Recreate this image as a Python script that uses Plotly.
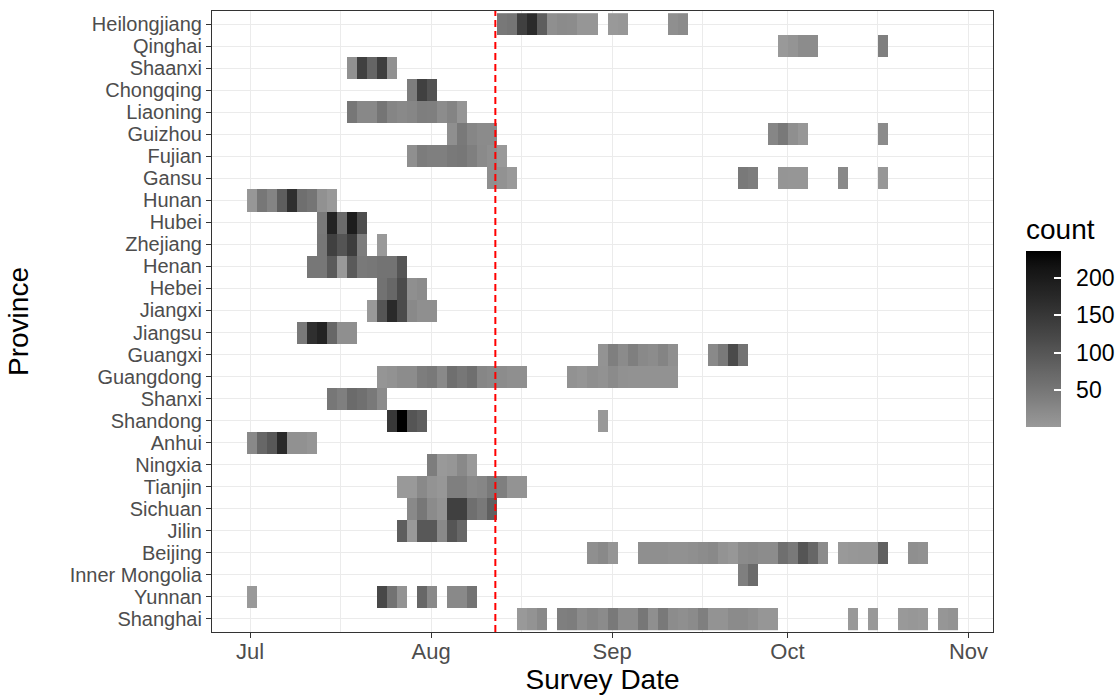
import math
from datetime import datetime, timedelta
import plotly.graph_objects as go

# ---------------- data ----------------
provinces = ["Heilongjiang", "Qinghai", "Shaanxi", "Chongqing", "Liaoning", "Guizhou",
             "Fujian", "Gansu", "Hunan", "Hubei", "Zhejiang", "Henan", "Hebei", "Jiangxi",
             "Jiangsu", "Guangxi", "Guangdong", "Shanxi", "Shandong", "Anhui", "Ningxia",
             "Tianjin", "Sichuan", "Jilin", "Beijing", "Inner Mongolia", "Yunnan", "Shanghai"]

# date bins (2-D histogram of survey dates)
bin_start = datetime(2020, 6, 30, 11, 40)
bin_days = 1.7154
n_bins = 71

# runs of (first bin index, counts per consecutive bin)
heilongjiang = [(25, [48, 52, 135, 170, 88, 16, 22, 20, 6, 6]), (36, [1, 4]), (42, [16, 22])]
qinghai = [(53, [1, 8, 20, 20]), (63, [37])]
shaanxi = [(10, [13, 135, 78, 138, 13])]
chongqing = [(16, [40, 135, 106])]
liaoning = [(10, [50, 26, 26, 52, 30, 25, 29, 39, 37, 20, 31, 7])]
guizhou = [(20, [16, 46, 29, 22, 22]), (52, [29, 46, 16, 4]), (63, [22])]
fujian = [(16, [16, 42, 37, 37, 46, 50, 37, 23, 16, 1])]
gansu = [(24, [16, 11, 1]), (49, [46, 40]), (53, [7, 5, 5]), (59, [25]), (63, [4])]
hunan = [(0, [4, 50, 31, 88, 163, 62, 52, 13, 1])]
hubei = [(7, [46, 185, 68, 195, 112])]
zhejiang = [(7, [50, 135, 103, 140, 40]), (13, [1])]
henan = [(6, [50, 50, 93, 1, 93, 46, 50, 56, 56, 102])]
hebei = [(13, [57, 75, 117, 16, 22])]
jiangxi = [(12, [1, 102, 173, 117, 25, 16, 16])]
jiangsu = [(5, [46, 163, 185, 75, 16, 16])]
guangxi = [(35, [10, 37, 22, 37, 25, 20, 31, 16]), (46, [25, 46, 117, 56])]
guangdong = [(13, [7, 11, 20, 20, 40, 46, 25, 62, 50, 62, 29, 25, 20, 16, 16]),
             (32, [11, 7, 16, 11, 22, 13, 11, 11, 11, 11, 11])]
shanxi = [(8, [50, 37, 68, 60, 46, 22])]
shandong = [(14, [149, 236, 102, 88]), (35, [1])]
anhui = [(0, [25, 75, 97, 173, 13, 13, 7])]
ningxia = [(18, [40, 1, 5, 25, 1])]
tianjin = [(15, [1, 1, 25, 10, 4, 37, 37, 25, 29, 46, 37, 10, 10])]
sichuan = [(16, [25, 50, 22, 10, 135, 135, 62, 46, 85])]
jilin = [(15, [88, 1, 97, 97, 25, 102, 75])]
beijing = [(34, [16, 25, 7]),
           (39, [16, 16, 16, 13, 13, 16, 20, 25, 10, 4, 22, 25, 20, 20, 62, 46, 102, 75, 22]),
           (59, [1, 4, 5, 5, 85]), (66, [16, 13])]
inner_mongolia = [(49, [37, 68])]
yunnan = [(0, [1]), (13, [122, 56, 10]), (17, [75, 25]), (20, [25, 25, 56])]
shanghai = [(27, [1, 10, 25]),
            (31, [37, 40, 20, 29, 22, 46, 20, 20, 50, 16, 46, 20, 16, 22, 37, 10, 10, 22, 22, 16, 5, 5]),
            (60, [1]), (62, [1]), (65, [1, 4, 1]), (69, [5, 10])]

province_runs = [heilongjiang, qinghai, shaanxi, chongqing, liaoning, guizhou, fujian, gansu,
                 hunan, hubei, zhejiang, henan, hebei, jiangxi, jiangsu, guangxi, guangdong,
                 shanxi, shandong, anhui, ningxia, tianjin, sichuan, jilin, beijing,
                 inner_mongolia, yunnan, shanghai]

policy_date = "2020-08-12"
month_ticks = ["2020-07-01", "2020-08-01", "2020-09-01", "2020-10-01", "2020-11-01"]
month_labels = ["Jul", "Aug", "Sep", "Oct", "Nov"]
legend_ticks = [50, 100, 150, 200]

# ---------------- build matrix ----------------
z = []
for runs in province_runs:
    row = [None] * n_bins
    for start, vals in runs:
        for j, v in enumerate(vals):
            row[start + j] = v
    z.append(row)

fmt = "%Y-%m-%d %H:%M:%S"
x_edges = [(bin_start + timedelta(days=bin_days * k)).strftime(fmt) for k in range(n_bins + 1)]

all_vals = [v for r in z for v in r if v is not None]
zmin, zmax = min(all_vals), max(all_vals)


# grey60 -> black gradient interpolated in CIE Lab (like ggplot2)
def srgb_to_lin(c):
    return c / 12.92 if c <= 0.04045 else ((c + 0.055) / 1.055) ** 2.4


def lin_to_srgb(c):
    return 12.92 * c if c <= 0.0031308 else 1.055 * c ** (1 / 2.4) - 0.055


def L_of(c):
    y = srgb_to_lin(c)
    return 116 * y ** (1 / 3) - 16 if y > 0.008856 else 903.3 * y


def grey_of_L(L):
    fy = (L + 16) / 116
    y = fy ** 3 if fy ** 3 > 0.008856 else L / 903.3
    g = round(max(0.0, min(1.0, lin_to_srgb(y))) * 255)
    return f"rgb({g},{g},{g})"


L_low = L_of(153 / 255)
colorscale = [[t / 20, grey_of_L(L_low * (1 - t / 20))] for t in range(21)]

FONT = "Liberation Sans, Arial, Helvetica, sans-serif"
TICK_GREY = "#4D4D4D"

cb_common = dict(
    thickness=35, thicknessmode="pixels",
    len=212, lenmode="pixels",
    x=1.0423, xanchor="left", xpad=0,
    y=0.672, yanchor="top", ypad=0,
    outlinewidth=0,
    tickvals=legend_ticks,
)

fig = go.Figure()
fig.add_trace(go.Heatmap(
    z=z, x=x_edges, y=provinces,
    colorscale=colorscale, zmin=zmin, zmax=zmax,
    hoverongaps=False,
    colorbar=dict(
        **cb_common,
        title=dict(text="count", side="top", font=dict(size=28, color="black", family=FONT)),
        ticks="outside", ticklen=11, tickcolor="rgba(0,0,0,0)",
        tickfont=dict(size=23, color="black", family=FONT),
    ),
))
# overlay colorbar providing the white inner tick marks
fig.add_trace(go.Scatter(
    x=[None], y=[None], mode="markers", showlegend=False, hoverinfo="skip",
    marker=dict(color=[zmin], cmin=zmin, cmax=zmax, colorscale=colorscale, showscale=True,
                colorbar=dict(
                    **cb_common,
                    title=dict(text="count", side="top",
                               font=dict(size=28, color="rgba(0,0,0,0)", family=FONT)),
                    ticks="inside", ticklen=7, tickwidth=1.5, tickcolor="white",
                    showticklabels=False,
                )),
))

fig.add_shape(type="line", xref="x", yref="paper", x0=policy_date, x1=policy_date,
              y0=0, y1=1, line=dict(color="red", width=2, dash="7px,4px"), layer="above")

x_lo = (datetime(2020, 7, 1) - timedelta(days=6.51)).strftime(fmt)
x_hi = (datetime(2020, 11, 1) + timedelta(days=4.2)).strftime(fmt)

fig.update_xaxes(
    type="date", range=[x_lo, x_hi],
    tickmode="array", tickvals=month_ticks, ticktext=month_labels,
    tickfont=dict(size=22, color=TICK_GREY, family=FONT),
    ticks="outside", ticklen=5, tickwidth=1.1, tickcolor="#333333",
    ticklabelstandoff=-5,
    showgrid=True, gridcolor="#EBEBEB", gridwidth=1.2,
    minor=dict(showgrid=True, gridcolor="#EBEBEB", gridwidth=0.6,
               tick0="2020-06-16 12:00:00", dtick="M1"),
    showline=True, linecolor="#333333", linewidth=1.1, mirror=True, zeroline=False,
    title=dict(text="Survey Date", font=dict(size=28, color="black", family=FONT), standoff=2),
)
fig.update_yaxes(
    type="category", categoryorder="array", categoryarray=provinces,
    tickmode="array", tickvals=provinces, ticktext=provinces,
    range=[len(provinces) - 0.4, -0.6],
    tickfont=dict(size=20, color=TICK_GREY, family=FONT),
    ticks="outside", ticklen=5, tickwidth=1.1, tickcolor="#333333",
    showgrid=True, gridcolor="#EBEBEB", gridwidth=1.2,
    showline=True, linecolor="#333333", linewidth=1.1, mirror=True, zeroline=False,
    title=dict(text="Province", font=dict(size=28, color="black", family=FONT), standoff=32),
)

fig.update_layout(
    width=1119, height=696,
    margin=dict(l=212, r=126, t=11, b=64, autoexpand=False),
    plot_bgcolor="white", paper_bgcolor="white",
    font=dict(family=FONT),
    showlegend=False,
)

fig.write_html("out.html", config={"displayModeBar": False},
               post_script="document.body.style.margin='0';")
